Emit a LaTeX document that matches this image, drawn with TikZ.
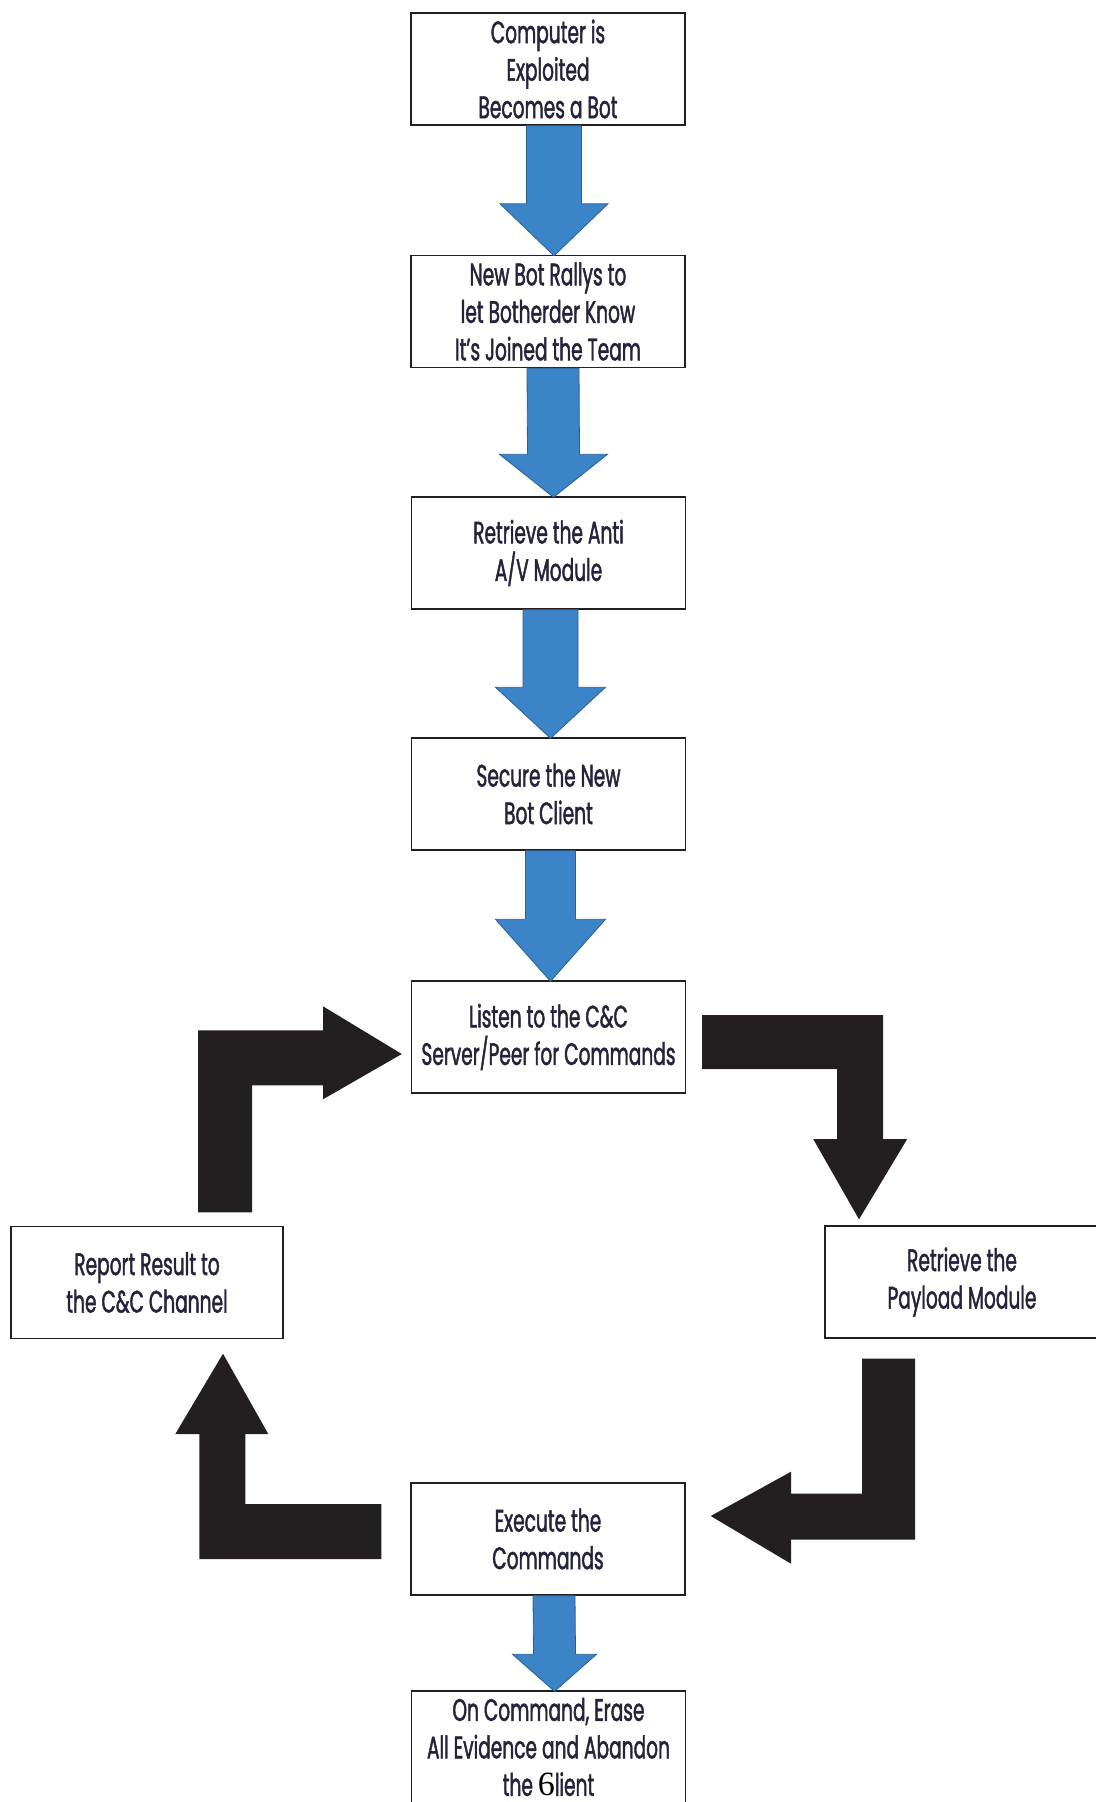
\documentclass[tikz,border=0pt]{standalone}
\usepackage{fontspec}
\setmainfont{Poppins}[FakeStretch=0.6,FakeBold=1.4]
\newfontfamily\sixfont{Liberation Serif}
\usetikzlibrary{calc}
\definecolor{bluefill}{HTML}{3B84C8}
\definecolor{blueedge}{HTML}{2B5F94}
\definecolor{darkfill}{HTML}{231F20}
\definecolor{txt}{HTML}{24233A}
\newcommand{\bluedrop}[6]{%
  \path[bluearr] ($(#1.south)+({#3-#4},0)$) -- ($(#2.north)+({#3-#4},{-#6})$)
    -- ($(#2.north)+({#3-#5},{-#6})$) -- ($(#2.north)+(#3,1)$)
    -- ($(#2.north)+({#3+#5},{-#6})$) -- ($(#2.north)+({#3+#4},{-#6})$)
    -- ($(#1.south)+({#3+#4},0)$) -- cycle;}
\begin{document}
\begin{tikzpicture}[x=0.5pt,y=-0.5pt,
  stepbox/.style={draw=darkfill, line width=0.7pt, fill=white,
    minimum width=137pt, minimum height=56pt, align=center, inner sep=0pt,
    text=txt, font=\fontsize{15.5}{18.75}\selectfont},
  bluearr/.style={fill=bluefill, draw=blueedge, line width=0.4pt},
  blackarr/.style={fill=darkfill, draw=none}]
\useasboundingbox (0,0) rectangle (1096,1802);
\node[stepbox] (b1) at (548,69) {Computer is\\Exploited\\Becomes a Bot};
\node[stepbox] (b2) at (548,311.5) {New Bot Rallys to\\let Botherder Know\\It's Joined the Team};
\node[stepbox] (b3) at (548.5,553) {Retrieve the Anti\\A/V Module};
\node[stepbox] (b4) at (548.5,794) {Secure the New\\Bot Client};
\node[stepbox] (b5) at (548.5,1037) {Listen to the C\&C\\Server/Peer for Commands};
\node[stepbox, minimum width=136pt] (bl) at (147,1282.5) {Report Result to\\the C\&C Channel};
\node[stepbox] (br) at (962,1282) {Retrieve the\\Payload Module};
\node[stepbox] (b6) at (548,1539) {Execute the\\Commands};
\node[stepbox] (b7) at (548.5,1747) {On Command, Erase\\All Evidence and Abandon\\the {\sixfont\fontsize{17}{18}\selectfont\color{black}6}lient};

\bluedrop{b1}{b2}{6}{27.5}{54}{51}
\bluedrop{b2}{b3}{5}{26}{54}{42}
\bluedrop{b3}{b4}{2}{27.5}{55}{50}
\bluedrop{b4}{b5}{2}{25}{55}{61}
\bluedrop{b6}{b7}{6}{21}{42}{36}

% Listen -> Payload
\path[blackarr] ($(b5.east)+(16,-22)$) -- ($(b5.east)+(197,-22)$) -- ($(b5.east)+(197,102)$)
  -- ($(b5.east)+(221,102)$) -- ($(br.north)+(-103,-6)$) -- ($(b5.east)+(127,102)$)
  -- ($(b5.east)+(151,102)$) -- ($(b5.east)+(151,32)$) -- ($(b5.east)+(16,32)$) -- cycle;
% Payload -> Execute
\path[blackarr] ($(br.south)+(-100,20)$) -- ($(br.south)+(-47,20)$) -- ($(br.south)+(-47,201)$)
  -- ($(br.south)+(-171,201)$) -- ($(br.south)+(-171,225)$) -- ($(b6.east)+(25,-23)$)
  -- ($(br.south)+(-171,133)$) -- ($(br.south)+(-171,155)$) -- ($(br.south)+(-100,155)$) -- cycle;
% Execute -> Report
\path[blackarr] ($(b6.west)+(-29,-35)$) -- ($(b6.west)+(-29,20)$) -- ($(b6.west)+(-211,20)$)
  -- ($(b6.west)+(-211,-105)$) -- ($(b6.west)+(-235,-105)$) -- ($(bl.south)+(76,14.5)$)
  -- ($(b6.west)+(-142,-105)$) -- ($(b6.west)+(-165,-105)$) -- ($(b6.west)+(-165,-35)$) -- cycle;
% Report -> Listen
\path[blackarr] ($(bl.north)+(51,-13.5)$) -- ($(bl.north)+(51,-195.5)$) -- ($(bl.north)+(176,-195.5)$)
  -- ($(bl.north)+(176,-219.5)$) -- ($(b5.west)+(-9,17)$) -- ($(bl.north)+(176,-126.5)$)
  -- ($(bl.north)+(176,-140.5)$) -- ($(bl.north)+(105,-140.5)$) -- ($(bl.north)+(105,-13.5)$) -- cycle;
\end{tikzpicture}
\end{document}
